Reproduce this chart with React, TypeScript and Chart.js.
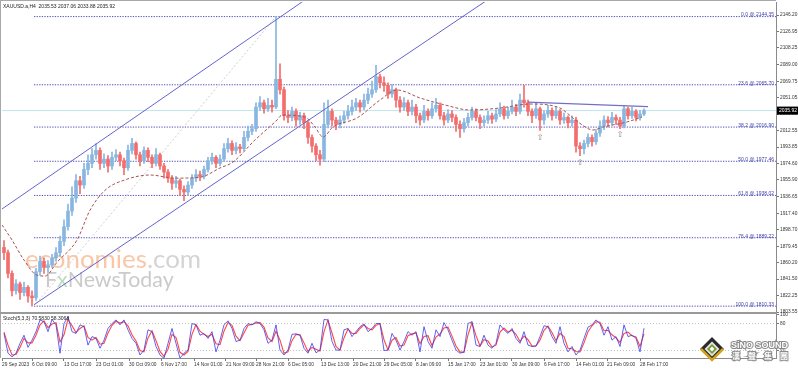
import React, { useEffect, useRef } from 'react';
import Chart from 'chart.js/auto';

// ---------- DATA ----------
const firstOpen = 1878;
const closes = [
  1872, 1848, 1828, 1836, 1826, 1832, 1822, 1820, 1850, 1862,
  1855, 1858, 1866, 1872, 1885, 1902, 1920, 1935, 1955, 1950,
  1968, 1975, 1985, 1990, 1975, 1980, 1972, 1982, 1985, 1978,
  1970, 1990, 1998, 1985, 1978, 1990, 1982, 1975, 1985, 1972,
  1965, 1958, 1952, 1955, 1945, 1942, 1950, 1958, 1962, 1960,
  1968, 1978, 1982, 1975, 1980, 1992, 1998, 1990, 1994, 1992,
  2005, 2012, 2015, 2040, 2045, 2038, 2042, 2040, 2072, 2060,
  2030, 2028, 2035, 2025, 2030, 2022, 2005, 1995, 1985, 1980,
  2020, 2035, 2025, 2020, 2025, 2030, 2035, 2040, 2045, 2040,
  2048, 2055, 2060, 2075, 2068, 2065, 2055, 2060, 2048, 2040,
  2045, 2035, 2040, 2030, 2025, 2035, 2030, 2038, 2042, 2030,
  2025, 2032, 2028, 2020, 2015, 2022, 2028, 2035, 2028, 2022,
  2025, 2030, 2026, 2032, 2038, 2030, 2035, 2040, 2035, 2048,
  2045, 2035, 2030, 2038, 2025, 2032, 2036, 2030, 2035, 2025,
  2028, 2022, 2025, 1995, 1992, 1998, 2005, 2000, 2010, 2018,
  2025, 2022, 2028, 2025, 2018, 2038, 2030, 2035, 2028, 2032,
  2035.92,
];
const highs = [
  1886, 1875, 1851, 1841, 1838, 1838, 1834, 1828, 1854, 1868,
  1866, 1863, 1870, 1878, 1891, 1910, 1928, 1948, 1962, 1960,
  1975, 1985, 1992, 1998, 1993, 1986, 1984, 1988, 1991, 1988,
  1981, 1996, 2004, 2000, 1988, 1994, 1993, 1985, 1992, 1987,
  1975, 1968, 1961, 1960, 1957, 1949, 1954, 1962, 1968, 1966,
  1972, 1982, 1987, 1984, 1985, 1998, 2004, 2001, 1999, 1997,
  2012, 2018, 2020, 2045, 2052, 2048, 2050, 2048, 2144.35, 2090,
  2063, 2036, 2040, 2038, 2034, 2033, 2024, 2008, 1998, 1990,
  2045, 2048, 2038, 2028, 2030, 2035, 2042, 2048, 2050, 2048,
  2055, 2062, 2070, 2088, 2078, 2075, 2068, 2066, 2062, 2052,
  2051, 2048, 2048, 2043, 2033, 2042, 2038, 2045, 2050, 2045,
  2034, 2037, 2036, 2031, 2024, 2027, 2033, 2040, 2038, 2031,
  2030, 2035, 2033, 2037, 2045, 2041, 2040, 2048, 2043, 2055,
  2065, 2048, 2038, 2045, 2040, 2036, 2042, 2039, 2040, 2037,
  2033, 2030, 2030, 2028, 1999, 2002, 2009, 2008, 2014, 2024,
  2030, 2029, 2034, 2031, 2028, 2042, 2040, 2040, 2037, 2036,
  2038,
];
const lows = [
  1864, 1843, 1822, 1824, 1818, 1822, 1815, 1810.33, 1817, 1846,
  1848, 1850, 1855, 1862, 1868, 1880, 1898, 1915, 1930, 1940,
  1946, 1962, 1970, 1980, 1968, 1970, 1965, 1968, 1978, 1972,
  1962, 1967, 1986, 1980, 1972, 1975, 1977, 1970, 1972, 1968,
  1958, 1953, 1945, 1947, 1938, 1932, 1938, 1946, 1954, 1955,
  1957, 1965, 1974, 1970, 1972, 1977, 1988, 1985, 1986, 1987,
  1990, 2001, 2008, 2012, 2036, 2033, 2035, 2034, 2038, 2055,
  2025, 2022, 2024, 2018, 2020, 2015, 1998, 1988, 1978, 1973,
  1977, 2016, 2018, 2014, 2016, 2021, 2026, 2031, 2036, 2034,
  2037, 2044, 2051, 2057, 2062, 2058, 2050, 2051, 2040, 2034,
  2036, 2030, 2031, 2022, 2019, 2022, 2025, 2027, 2034, 2026,
  2019, 2022, 2023, 2012, 2005, 2011, 2018, 2025, 2024, 2015,
  2018, 2021, 2021, 2023, 2029, 2026, 2027, 2032, 2030, 2032,
  2040, 2030, 2022, 2027, 2013, 2020, 2028, 2025, 2027, 2020,
  2021, 2016, 2018, 1988, 1984, 1986, 1994, 1995, 1997, 2006,
  2014, 2017, 2019, 2020, 2015, 2016, 2026, 2027, 2024, 2025,
  2030,
];
const stochK = [
  59, 15, 7, 15, 37, 55, 28, 44, 63, 89,
  85, 63, 90, 78, 15, 81, 96, 63, 59, 78,
  74, 33, 52, 48, 26, 44, 70, 81, 89, 78,
  89, 67, 48, 37, 11, 22, 67, 63, 30, 11,
  4, 37, 70, 37, 4, 15, 22, 81, 78, 55,
  59, 48, 63, 18, 44, 78, 87, 70, 41, 44,
  70, 81, 78, 85, 81, 67, 37, 44, 78, 22,
  11, 22, 57, 58, 55, 26, 15, 37, 16, 22,
  90, 89, 41, 22, 22, 67, 70, 52, 63, 74,
  80, 63, 70, 81, 81, 21, 22, 59, 44, 22,
  41, 63, 55, 63, 18, 74, 41, 26, 67, 52,
  83, 67, 44, 22, 15, 18, 81, 85, 33, 30,
  55, 33, 26, 37, 78, 67, 59, 70, 48, 37,
  63, 33, 30, 31, 52, 76, 74, 52, 37, 74,
  37, 18, 30, 11, 22, 48, 73, 78, 89, 81,
  55, 74, 44, 52, 30, 78, 52, 55, 48, 18,
  70.58,
];
const stochD = [
  62, 33, 11, 12, 28, 48, 38, 38, 55, 78,
  87, 72, 80, 83, 40, 56, 90, 76, 61, 70,
  76, 50, 44, 50, 35, 37, 60, 77, 86, 82,
  85, 76, 56, 42, 21, 18, 49, 65, 43, 19,
  8, 24, 57, 50, 17, 11, 19, 57, 79, 64,
  57, 52, 57, 36, 34, 64, 83, 77, 53, 43,
  60, 77, 79, 82, 83, 73, 49, 41, 64, 44,
  15, 18, 43, 57, 56, 38, 19, 28, 24, 20,
  63, 89, 60, 30, 22, 49, 69, 59, 59, 70,
  78, 70, 67, 77, 81, 45, 22, 44, 50, 31,
  33, 54, 58, 60, 36, 52, 54, 32, 51, 58,
  71, 73, 53, 31, 18, 17, 56, 83, 54, 31,
  45, 42, 29, 33, 62, 71, 62, 66, 57, 41,
  53, 45, 31, 31, 44, 66, 75, 61, 43, 59,
  52, 26, 25, 19, 18, 38, 63, 76, 85, 84,
  65, 66, 56, 49, 39, 59, 62, 54, 51, 30,
  58.31,
];
// moving average
const maIdx = [-0.5, 2, 5, 8.25, 10.25, 13.25, 18.25, 21.5, 25.25, 30.25, 36.5, 42.75, 49, 54, 57.25, 62.75, 68.25, 69.5, 75.25, 77.75, 79.75, 82.25, 88.25, 94, 98.25, 104, 110.25, 116.5, 124, 131.5, 139, 140.75, 143.5, 147.25, 149.75, 155.75, 159.5];
const maVal = [1904, 1886.6, 1863.5, 1846, 1845, 1861, 1886.6, 1921, 1944, 1956, 1961.6, 1958, 1959, 1969.7, 1976.6, 2002, 2025, 2030.8, 2028.5, 2017, 2005.4, 2017, 2027.4, 2048.1, 2059.7, 2050.5, 2042.4, 2036.6, 2038.9, 2043.5, 2038.9, 2033.1, 2022.8, 2013.5, 2017, 2022.8, 2028.5];

const fibRatios = [0, 23.6, 38.2, 50, 61.8, 76.4, 100];
const fibPrices = [2144.35, 2065.7, 2016.9, 1977.46, 1938.02, 1889.22, 1810.33];
const fibStartIdx = 7.5;

const upperChannelIdx = [-0.5, 76];
const upperChannelVal = [1922.4, 2166];
const lowerChannelIdx = [7.5, 121];
const lowerChannelVal = [1812, 2164];
const fibTrendIdx = [7.5, 68];
const fibTrendVal = [1810.33, 2144.35];
const resistIdx = [131, 161];
const resistVal = [2045.8, 2040.5];
const arrowIdx = [134, 144, 154];
const arrowVal = [2006, 1977, 2009];

const yTickValues = [2146.2, 2126.95, 2108.25, 2089.0, 2069.75, 2051.05, 2031.8, 2012.55, 1993.85, 1974.6, 1955.9, 1936.65, 1917.4, 1898.7, 1879.45, 1860.2, 1841.5, 1822.25, 1803.55];
const stochTicks = [20, 80, 100];
const xTickLabels = ['29 Sep 2023', '6 Oct 09:00', '13 Oct 17:00', '23 Oct 01:00', '30 Oct 09:00', '6 Nov 17:00', '14 Nov 01:00', '21 Nov 09:00', '28 Nov 21:00', '6 Dec 05:00', '13 Dec 13:00', '20 Dec 21:00', '29 Dec 05:00', '8 Jan 09:00', '15 Jan 17:00', '23 Jan 01:00', '30 Jan 09:00', '6 Feb 17:00', '14 Feb 01:00', '21 Feb 09:00', '28 Feb 17:00'];
const xTickIdx = [-0.5, 7, 15, 23, 31.25, 39.25, 47.5, 55.5, 63, 71, 79.25, 87.25, 95, 103, 111, 119, 127, 135, 143, 150.75, 159];

const lastPrice = 2035.92;
const headerText = 'XAUUSD.a,H4  2035.53 2037.06 2033.88 2035.92';
const stochText = 'Stoch(5,3,3) 70.5830 58.3068';

// ---------- STYLE ----------
const UP = '#88b6e0';
const DOWN = '#f36d6d';
const FONT = "'Liberation Sans', Arial, sans-serif";
const X_MIN = -0.5;
const X_MAX = 193;

export default function App() {
  const ref = useRef<HTMLCanvasElement | null>(null);

  useEffect(() => {
    document.body.style.margin = '0';
    const canvas = ref.current;
    if (!canvas) return;
    const opens = closes.map((c, i) => (i === 0 ? firstOpen : closes[i - 1]));
    const colors = closes.map((c, i) => (c >= opens[i] ? UP : DOWN));
    const tickFont = { family: FONT, size: 4.8 };

    const lineDs = (idx: number[], val: number[], color: string, extra: any = {}) => ({
      type: 'line' as const,
      data: idx.map((x, i) => ({ x, y: val[i] })),
      borderColor: color,
      borderWidth: 1,
      pointRadius: 0,
      yAxisID: 'y',
      ...extra,
    });

    const overlay = {
      id: 'overlay',
      beforeDraw(chart: any) {
        const ctx = chart.ctx;
        ctx.save();
        ctx.fillStyle = '#ffffff';
        ctx.fillRect(0, 0, chart.width, chart.height);
        ctx.restore();
      },
      beforeDatasetsDraw(chart: any) {
        const ctx = chart.ctx;
        ctx.save();
        ctx.textBaseline = 'alphabetic';
        let fs = 25;
        ctx.font = `${fs}px Lato`;
        fs = (fs * 122) / ctx.measureText('economies').width;
        ctx.font = `${fs}px Lato`;
        ctx.fillStyle = 'rgba(247,160,110,0.6)';
        ctx.fillText('economies', 25, 268);
        const w1 = ctx.measureText('economies').width;
        ctx.fillStyle = 'rgba(170,170,170,0.5)';
        ctx.fillText('.com', 25 + w1, 268);
        let fs2 = 19;
        ctx.font = `${fs2}px Lato`;
        fs2 = (fs2 * 128) / ctx.measureText('FxNewsToday').width;
        ctx.font = `${fs2}px Lato`;
        const gray = 'rgba(150,150,150,0.5)';
        ctx.fillStyle = gray;
        ctx.fillText('F', 45, 287);
        const wf = ctx.measureText('F').width;
        ctx.fillStyle = 'rgba(120,185,120,0.5)';
        ctx.fillText('x', 45 + wf, 287);
        const wx = ctx.measureText('x').width;
        ctx.fillStyle = gray;
        ctx.fillText('NewsToday', 45 + wf + wx, 287);
        ctx.restore();
      },
      afterDatasetsDraw(chart: any) {
        const ctx = chart.ctx;
        const ys = chart.scales.y;
        const xs = chart.scales.x;
        ctx.save();
        ctx.font = `5px ${FONT}`;
        ctx.fillStyle = '#4040b0';
        ctx.textAlign = 'right';
        ctx.textBaseline = 'bottom';
        fibRatios.forEach((r, i) => {
          const y = ys.getPixelForValue(fibPrices[i]);
          ctx.fillText(`${r.toFixed(1)} @ ${fibPrices[i].toFixed(2)}`, chart.chartArea.right - 2, y + 1);
        });
        ctx.font = `8px 'DejaVu Sans'`;
        ctx.fillStyle = '#8a8a8a';
        ctx.textAlign = 'center';
        ctx.textBaseline = 'top';
        arrowIdx.forEach((ix, i) => {
          ctx.fillText('\u21E7', xs.getPixelForValue(ix), ys.getPixelForValue(arrowVal[i]) - 3);
        });
        ctx.restore();
      },
      afterDraw(chart: any) {
        const ctx = chart.ctx;
        const area = chart.chartArea;
        const ys = chart.scales.y;
        ctx.save();
        // frame
        ctx.strokeStyle = '#a8a8a8';
        ctx.lineWidth = 1;
        ctx.beginPath();
        ctx.moveTo(0.5, 0);
        ctx.lineTo(0.5, area.bottom);
        ctx.moveTo(0, 0.5);
        ctx.lineTo(area.right, 0.5);
        ctx.stroke();
        ctx.fillStyle = '#9a9a9a';
        ctx.fillRect(0, ys.bottom - 1, area.right + 1, 2);
        // headers
        ctx.font = `5px ${FONT}`;
        ctx.fillStyle = '#222';
        ctx.textBaseline = 'alphabetic';
        ctx.textAlign = 'left';
        ctx.fillText(headerText, 3, 8);
        ctx.fillText(stochText, 3, ys.bottom + 7);
        // price label
        const py = ys.getPixelForValue(lastPrice);
        ctx.fillStyle = '#000';
        ctx.fillRect(area.right + 1, py - 4, 21, 8);
        ctx.fillStyle = '#fff';
        ctx.textBaseline = 'middle';
        ctx.fillText(lastPrice.toFixed(2), area.right + 3, py + 0.5);
        // logo
        const cx = 712, cy = 349, r = 12;
        const diamond = (rr: number) => {
          ctx.beginPath();
          ctx.moveTo(cx, cy - rr);
          ctx.lineTo(cx + rr, cy);
          ctx.lineTo(cx, cy + rr);
          ctx.lineTo(cx - rr, cy);
          ctx.closePath();
        };
        diamond(r);
        ctx.fillStyle = '#2b2b2b';
        ctx.fill();
        ctx.strokeStyle = '#d3a21a';
        ctx.lineWidth = 2.5;
        ctx.beginPath();
        ctx.moveTo(cx - r + 1, cy);
        ctx.lineTo(cx, cy + r - 1);
        ctx.lineTo(cx + r - 1, cy);
        ctx.stroke();
        diamond(r * 0.62);
        ctx.fillStyle = '#e6e6e6';
        ctx.fill();
        diamond(r * 0.42);
        ctx.fillStyle = '#7a9a3a';
        ctx.fill();
        diamond(r * 0.2);
        ctx.fillStyle = '#ffffff';
        ctx.fill();
        ctx.font = `bold 9px ${FONT}`;
        ctx.textBaseline = 'alphabetic';
        ctx.lineWidth = 2;
        ctx.strokeStyle = '#8a8a8a';
        ctx.strokeText('SiNO SOUND', 731, 348);
        ctx.fillStyle = '#ffffff';
        ctx.fillText('SiNO SOUND', 731, 348);
        ctx.font = `bold 8px 'Noto Sans CJK TC'`;
        const cjk = ['漢', '聲', '集', '團'];
        const cjkX = [732, 748, 764, 780];
        cjk.forEach((c, i) => {
          ctx.strokeText(c, cjkX[i], 359);
          ctx.fillText(c, cjkX[i], 359);
        });
        ctx.restore();
      },
    };

    const chart = new Chart(canvas, {
      type: 'bar',
      data: {
        datasets: [
          lineDs(upperChannelIdx, upperChannelVal, '#6464cc', { order: 1 }),
          lineDs(lowerChannelIdx, lowerChannelVal, '#6464cc', { order: 1 }),
          lineDs(resistIdx, resistVal, '#7070c8', { order: 1, borderWidth: 1.2 }),
          lineDs(maIdx, maVal, '#a85252', { order: 2, borderDash: [3, 2], cubicInterpolationMode: 'monotone' }),
          {
            type: 'bar',
            data: closes.map((c, i) => ({ x: i, y: [opens[i], c] })),
            backgroundColor: colors,
            barThickness: 3,
            minBarLength: 1,
            grouped: false,
            borderWidth: 0,
            yAxisID: 'y',
            order: 3,
          },
          {
            type: 'bar',
            data: highs.map((h, i) => ({ x: i, y: [lows[i], h] })),
            backgroundColor: colors,
            barThickness: 1,
            grouped: false,
            borderWidth: 0,
            yAxisID: 'y',
            order: 4,
          },
          lineDs(fibTrendIdx, fibTrendVal, '#cfcfcf', { order: 5, borderDash: [2, 2] }),
          ...fibPrices.map((p) =>
            lineDs([fibStartIdx, X_MAX], [p, p], '#5050b8', { order: 6, borderDash: [1.3, 1.3] })
          ),
          lineDs([X_MIN, X_MAX], [lastPrice, lastPrice], '#bfe4ee', { order: 7 }),
          {
            type: 'line',
            data: stochK.map((v, i) => ({ x: i, y: v })),
            borderColor: 'rgba(60,60,235,0.8)',
            borderWidth: 1,
            pointRadius: 0,
            yAxisID: 'ys',
            order: 1,
          },
          {
            type: 'line',
            data: stochD.map((v, i) => ({ x: i, y: v })),
            borderColor: '#ff4545',
            borderWidth: 1.1,
            pointRadius: 0,
            yAxisID: 'ys',
            order: 2,
          },
        ] as any,
      },
      options: {
        animation: false,
        responsive: false,
        maintainAspectRatio: false,
        devicePixelRatio: 1,
        events: [],
        layout: { padding: { left: 2, top: 2, right: 0, bottom: 0 } },
        plugins: { legend: { display: false }, tooltip: { enabled: false } },
        scales: {
          x: {
            type: 'linear',
            min: X_MIN,
            max: X_MAX,
            offset: false,
            bounds: 'data',
            grid: { display: true, drawOnChartArea: false, drawTicks: true, tickLength: 3, tickColor: '#777', offset: false },
            border: { display: true, color: '#8a8a8a' },
            ticks: {
              autoSkip: false,
              maxRotation: 0,
              minRotation: 0,
              align: 'start',
              padding: 1,
              font: tickFont,
              color: '#333',
              callback: (_v: any, i: number) => xTickLabels[i] ?? '',
            },
            afterBuildTicks: (s: any) => {
              s.ticks = xTickIdx.map((v) => ({ value: v }));
            },
            afterFit: (s: any) => {
              s.height = 13;
              s.paddingLeft = 0;
              s.paddingRight = 0;
            },
          },
          y: {
            type: 'linear',
            position: 'right',
            stack: 'panes',
            stackWeight: 311,
            min: 1802.4,
            max: 2161.2,
            bounds: 'data',
            grid: { display: true, drawOnChartArea: false, drawTicks: true, tickLength: 3, tickColor: '#777' },
            border: { display: true, color: '#8a8a8a' },
            ticks: {
              autoSkip: false,
              padding: 1,
              font: tickFont,
              color: '#333',
              callback: (v: any) => Number(v).toFixed(2),
            },
            afterBuildTicks: (s: any) => {
              s.ticks = yTickValues.map((v) => ({ value: v }));
            },
            afterFit: (s: any) => {
              s.width = 22;
              s.paddingTop = 0;
              s.paddingBottom = 0;
            },
          },
          ys: {
            type: 'linear',
            position: 'right',
            stack: 'panes',
            stackWeight: 45,
            min: 4.4,
            max: 104.4,
            bounds: 'data',
            grid: {
              display: true,
              drawOnChartArea: true,
              drawTicks: true,
              tickLength: 3,
              tickColor: '#777',
              color: (c: any) => (c.tick && (c.tick.value === 20 || c.tick.value === 80) ? '#c4c4c4' : 'rgba(0,0,0,0)'),
            },
            border: { display: true, color: '#8a8a8a', dash: [1, 2] },
            ticks: {
              autoSkip: false,
              padding: 1,
              font: tickFont,
              color: '#333',
              callback: (v: any) => String(v),
            },
            afterBuildTicks: (s: any) => {
              s.ticks = stochTicks.map((v) => ({ value: v }));
            },
            afterFit: (s: any) => {
              s.width = 22;
              s.paddingTop = 0;
              s.paddingBottom = 0;
            },
          },
        } as any,
      },
      plugins: [overlay as any],
    });
    return () => chart.destroy();
  }, []);

  return (
    <div style={{ width: 798, height: 371, position: 'relative' }}>
      <canvas ref={ref} width={798} height={371} style={{ display: 'block' }} />
    </div>
  );
}
